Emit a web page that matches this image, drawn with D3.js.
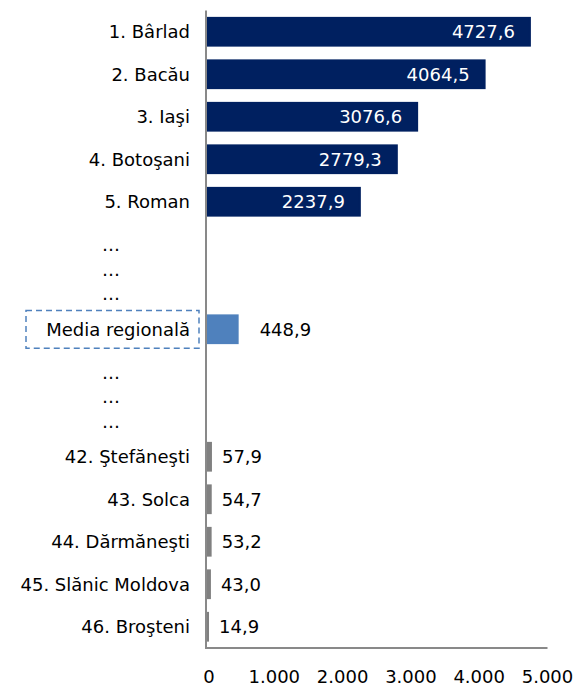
<!DOCTYPE html>
<html>
<head>
<meta charset="utf-8">
<script src="https://cdn.jsdelivr.net/npm/d3@7"></script>
<style>
  body { margin: 0; background: #fff; }
  svg { display: block; font-family: 'DejaVu Sans', sans-serif; }
</style>
</head>
<body>
<main></main>
<script>
// top five towns
const topNames = ['1. Bârlad', '2. Bacău', '3. Iaşi', '4. Botoşani', '5. Roman']
const topValues = [4727.6, 4064.5, 3076.6, 2779.3, 2237.9]
// regional average
const mediaName = 'Media regională'
const mediaValue = 448.9
// bottom five towns
const bottomNames = ['42. Ştefăneşti', '43. Solca', '44. Dărmăneşti', '45. Slănic Moldova', '46. Broşteni']
const bottomValues = [57.9, 54.7, 53.2, 43.0, 14.9]
const ticks = [0, 1000, 2000, 3000, 4000, 5000]

const width = 577
const height = 687

const rows = []
topNames.forEach((n, i) => rows.push({ key: n, name: n, value: topValues[i], kind: 'top' }))
rows.push({ key: 'gap1', kind: 'gap' }, { key: 'gap2', kind: 'gap' })
rows.push({ key: mediaName, name: mediaName, value: mediaValue, kind: 'media' })
rows.push({ key: 'gap3', kind: 'gap' }, { key: 'gap4', kind: 'gap' })
bottomNames.forEach((n, i) => rows.push({ key: n, name: n, value: bottomValues[i], kind: 'bottom' }))

const colors = { top: '#002060', media: '#4f81bd', bottom: '#808080' }

const loc = d3.formatLocale({ decimal: ',', thousands: '.', grouping: [3] })
const fmtVal = loc.format('.1f')
const fmtTick = loc.format(',')

const x = d3.scaleLinear().domain([0, 5000]).range([206, 547.5])
const y = d3.scaleBand().domain(rows.map(d => d.key)).range([10.5, 648]).paddingInner(0.3).paddingOuter(0.15)

const svg = d3.select('main')
  .append('svg')
  .attr('width', width)
  .attr('height', height)

const bars = rows.filter(d => d.kind !== 'gap')

// bars carry a border in their own colour, like the original chart
svg.selectAll('rect.bar')
  .data(bars)
  .enter()
  .append('rect')
  .attr('class', 'bar')
  .attr('x', x(0) + 1)
  .attr('y', d => y(d.key) + 1)
  .attr('width', d => x(d.value) - x(0))
  .attr('height', y.bandwidth() - 2)
  .style('fill', d => colors[d.kind])
  .style('stroke', d => colors[d.kind])
  .style('stroke-width', 2)

// axis lines
svg.append('line')
  .attr('x1', x(0)).attr('x2', x(0))
  .attr('y1', y.range()[0]).attr('y2', y.range()[1])
  .style('stroke', '#898989').style('stroke-width', 2)
svg.append('line')
  .attr('x1', x(0) - 1).attr('x2', x(5000))
  .attr('y1', y.range()[1]).attr('y2', y.range()[1])
  .style('stroke', '#898989').style('stroke-width', 2)

// category labels
svg.selectAll('text.cat')
  .data(bars)
  .enter()
  .append('text')
  .attr('class', 'cat')
  .attr('x', 190)
  .attr('y', d => y(d.key) + y.bandwidth() / 2)
  .attr('dy', '0.35em')
  .attr('text-anchor', 'end')
  .style('font-size', '18px')
  .style('fill', '#000')
  .text(d => d.name)

// dashed box around the regional average label
const mRow = rows.find(d => d.kind === 'media')
svg.append('rect')
  .attr('x', 26)
  .attr('y', y(mRow.key) - 4)
  .attr('width', 173)
  .attr('height', y.bandwidth() + 8)
  .style('fill', 'none')
  .style('stroke', '#4f81bd')
  .style('stroke-width', 1.5)
  .style('stroke-dasharray', '6,4')

// value labels
svg.selectAll('text.val')
  .data(bars)
  .enter()
  .append('text')
  .attr('class', 'val')
  .attr('x', d => d.kind === 'top' ? x(d.value) - 14 : d.kind === 'media' ? x(d.value) + 23 : x(d.value) + 12)
  .attr('y', d => y(d.key) + y.bandwidth() / 2)
  .attr('dy', '0.35em')
  .attr('text-anchor', d => d.kind === 'top' ? 'end' : 'start')
  .style('font-size', '18px')
  .style('fill', d => d.kind === 'top' ? '#fff' : '#000')
  .text(d => fmtVal(d.value))

// ellipsis markers in the gap rows
const step = y.step()
const dots = []
;['gap1', 'gap3'].forEach(g => {
  for (let i = 0; i < 3; i++) dots.push(y(g) + y.bandwidth() / 2 + step * (0.08 + 0.575 * i))
})
svg.selectAll('text.dots')
  .data(dots)
  .enter()
  .append('text')
  .attr('class', 'dots')
  .attr('x', 111)
  .attr('y', d => d)
  .attr('dy', '0.2em')
  .attr('text-anchor', 'middle')
  .style('font-size', '18px')
  .text('…')

// x tick labels
svg.selectAll('text.tick')
  .data(ticks)
  .enter()
  .append('text')
  .attr('class', 'tick')
  .attr('x', d => d === 0 ? x(d) + 3 : x(d))
  .attr('y', 683)
  .attr('text-anchor', 'middle')
  .style('font-size', '18px')
  .text(d => fmtTick(d))
</script>
</body>
</html>
